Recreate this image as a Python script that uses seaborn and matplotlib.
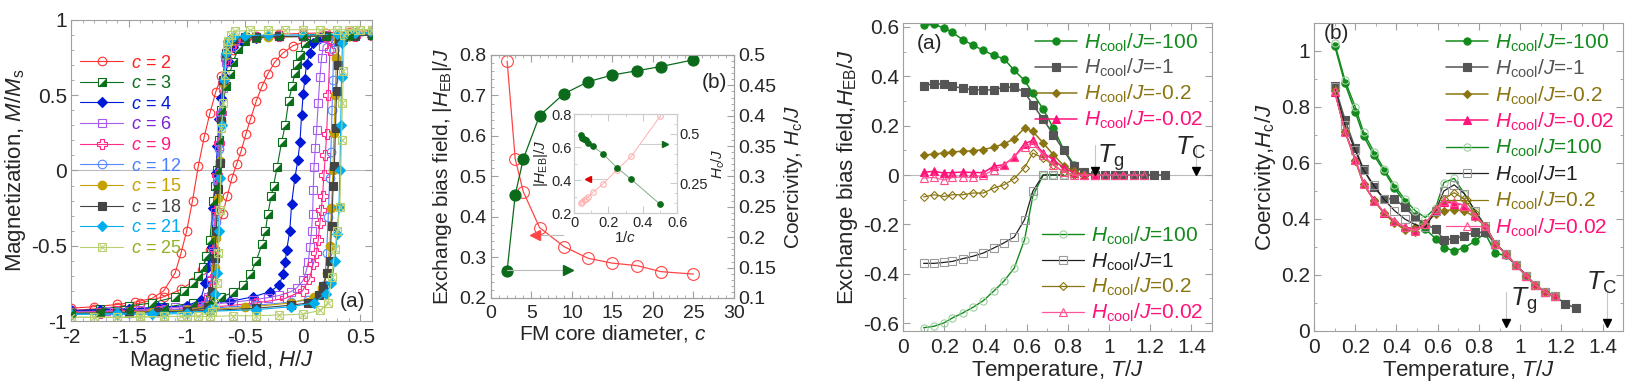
import seaborn as sns
import matplotlib.pyplot as plt
from matplotlib.lines import Line2D
from matplotlib.legend_handler import HandlerTuple
from matplotlib.ticker import MultipleLocator, FuncFormatter

sns.set_style("ticks")
plt.rcParams["font.family"] = ["Liberation Sans", "DejaVu Sans"]
plt.rcParams["mathtext.fontset"] = "custom"
plt.rcParams["mathtext.rm"] = "Liberation Sans"
plt.rcParams["mathtext.it"] = "Liberation Sans:italic"
plt.rcParams["mathtext.bf"] = "Liberation Sans:bold"
plt.rcParams["axes.unicode_minus"] = False

# ---------------- panel 1: hysteresis loops (descending / ascending branches)
H2_DN = [0.6, 0.4, 0.2, 0.0, -0.2, -0.4, -0.5, -0.6, -0.65, -0.7, -0.75, -0.8, -0.85, -0.9, -0.95, -1.0, -1.05, -1.1, -1.2, -1.3, -1.45, -1.6, -1.8, -2.0]
M2_DN = [0.93, 0.92, 0.915, 0.91, 0.905, 0.89, 0.87, 0.80, 0.72, 0.63, 0.52, 0.38, 0.22, 0.03, -0.20, -0.40, -0.55, -0.68, -0.80, -0.85, -0.875, -0.89, -0.905, -0.915]
H2_UP = [-2.0, -1.8, -1.6, -1.4, -1.2, -1.05, -0.95, -0.87, -0.80, -0.74, -0.69, -0.65, -0.61, -0.57, -0.53, -0.49, -0.45, -0.40, -0.35, -0.30, -0.24, -0.17, -0.08, 0.05, 0.2, 0.4, 0.6]
M2_UP = [-0.93, -0.92, -0.905, -0.88, -0.84, -0.79, -0.74, -0.66, -0.53, -0.41, -0.29, -0.17, -0.05, 0.04, 0.13, 0.24, 0.34, 0.46, 0.56, 0.64, 0.72, 0.78, 0.83, 0.86, 0.88, 0.90, 0.92]

H3_DN = [0.6, 0.4, 0.2, 0.0, -0.2, -0.4, -0.5, -0.555, -0.6, -0.63, -0.66, -0.70, -0.72, -0.74, -0.755, -0.77, -0.80, -0.83, -0.86, -0.90, -0.95, -1.02, -1.1, -1.3, -1.5, -1.75, -2.0]
M3_DN = [0.90, 0.90, 0.895, 0.89, 0.89, 0.88, 0.86, 0.81, 0.72, 0.64, 0.56, 0.40, 0.20, 0.0, -0.10, -0.20, -0.46, -0.57, -0.64, -0.70, -0.75, -0.80, -0.84, -0.88, -0.90, -0.92, -0.94]
H3_UP = [-2.0, -1.75, -1.5, -1.2, -0.95, -0.80, -0.70, -0.60, -0.51, -0.45, -0.40, -0.35, -0.32, -0.30, -0.27, -0.25, -0.22, -0.18, -0.15, -0.12, -0.09, -0.065, -0.05, -0.02, 0.02, 0.1, 0.2, 0.4, 0.6]
M3_UP = [-0.95, -0.94, -0.93, -0.91, -0.88, -0.86, -0.84, -0.81, -0.76, -0.69, -0.60, -0.49, -0.40, -0.29, -0.17, -0.10, 0.02, 0.19, 0.30, 0.46, 0.56, 0.65, 0.71, 0.77, 0.845, 0.88, 0.89, 0.895, 0.90]

H4_DN = [0.6, 0.4, 0.2, 0.0, -0.2, -0.4, -0.52, -0.6, -0.64, -0.67, -0.70, -0.72, -0.735, -0.75, -0.77, -0.785, -0.80, -0.814, -0.84, -0.88, -1.0, -1.2, -1.5, -1.75, -2.0]
M4_DN = [0.90, 0.90, 0.895, 0.89, 0.89, 0.88, 0.86, 0.82, 0.73, 0.62, 0.48, 0.34, 0.16, -0.02, -0.25, -0.51, -0.58, -0.64, -0.75, -0.86, -0.90, -0.91, -0.92, -0.925, -0.93]
H4_UP = [-2.0, -1.75, -1.5, -1.25, -1.0, -0.85, -0.63, -0.43, -0.28, -0.20, -0.17, -0.15, -0.137, -0.11, -0.094, -0.066, -0.04, -0.022, -0.008, 0.006, 0.021, 0.035, 0.064, 0.093, 0.15, 0.3, 0.45, 0.6]
M4_UP = [-0.94, -0.93, -0.92, -0.91, -0.90, -0.885, -0.87, -0.84, -0.805, -0.76, -0.69, -0.61, -0.53, -0.40, -0.22, -0.05, 0.07, 0.19, 0.37, 0.51, 0.61, 0.71, 0.78, 0.845, 0.88, 0.89, 0.895, 0.90]

H6_DN = [0.6, 0.4, 0.2, 0.0, -0.2, -0.4, -0.5, -0.58, -0.62, -0.66, -0.69, -0.71, -0.725, -0.74, -0.755, -0.77, -0.79, -0.82, -0.87, -1.0, -1.25, -1.5, -1.75, -2.0]
M6_DN = [0.90, 0.90, 0.895, 0.89, 0.89, 0.885, 0.88, 0.86, 0.82, 0.72, 0.55, 0.36, 0.16, -0.05, -0.30, -0.55, -0.73, -0.84, -0.90, -0.92, -0.93, -0.935, -0.94, -0.94]
H6_UP = [-2.0, -1.7, -1.4, -1.1, -0.8, -0.6, -0.43, -0.3, -0.2, -0.1, -0.05, 0.006, 0.035, 0.05, 0.064, 0.078, 0.087, 0.093, 0.099, 0.11, 0.122, 0.136, 0.15, 0.165, 0.18, 0.25, 0.4, 0.6]
M6_UP = [-0.94, -0.935, -0.925, -0.91, -0.89, -0.875, -0.86, -0.845, -0.83, -0.805, -0.78, -0.73, -0.66, -0.61, -0.51, -0.40, -0.29, -0.13, 0.02, 0.15, 0.27, 0.45, 0.62, 0.75, 0.83, 0.87, 0.89, 0.90]

H9_DN = [0.6, 0.4, 0.2, 0.0, -0.2, -0.4, -0.5, -0.58, -0.62, -0.66, -0.685, -0.705, -0.72, -0.735, -0.75, -0.765, -0.785, -0.81, -0.86, -1.0, -1.25, -1.5, -1.75, -2.0]
M9_DN = [0.90, 0.90, 0.895, 0.89, 0.89, 0.885, 0.88, 0.865, 0.83, 0.74, 0.58, 0.38, 0.18, -0.03, -0.26, -0.52, -0.72, -0.84, -0.90, -0.925, -0.935, -0.94, -0.945, -0.945]
H9_UP = [-2.0, -1.6, -1.2, -0.8, -0.4, -0.15, 0.0, 0.06, 0.093, 0.12, 0.136, 0.15, 0.162, 0.173, 0.185, 0.197, 0.208, 0.222, 0.237, 0.255, 0.3, 0.45, 0.6]
M9_UP = [-0.945, -0.935, -0.925, -0.91, -0.88, -0.85, -0.80, -0.72, -0.62, -0.55, -0.46, -0.35, -0.26, -0.17, -0.03, 0.10, 0.24, 0.50, 0.80, 0.86, 0.88, 0.895, 0.90]

H12_DN = [0.6, 0.4, 0.2, 0.0, -0.2, -0.4, -0.5, -0.6, -0.64, -0.67, -0.69, -0.705, -0.72, -0.735, -0.75, -0.765, -0.78, -0.80, -0.85, -1.0, -1.25, -1.5, -1.75, -2.0]
M12_DN = [0.90, 0.90, 0.895, 0.89, 0.89, 0.885, 0.885, 0.87, 0.84, 0.76, 0.60, 0.38, 0.14, -0.08, -0.34, -0.62, -0.77, -0.86, -0.91, -0.93, -0.94, -0.945, -0.95, -0.95]
H12_UP = [-2.0, -1.6, -1.2, -0.8, -0.4, -0.1, 0.05, 0.15, 0.19, 0.208, 0.222, 0.235, 0.245, 0.255, 0.262, 0.27, 0.29, 0.4, 0.6]
M12_UP = [-0.95, -0.94, -0.93, -0.915, -0.895, -0.875, -0.86, -0.82, -0.76, -0.55, -0.31, -0.05, 0.12, 0.40, 0.60, 0.80, 0.87, 0.89, 0.90]

H15_DN = [0.6, 0.3, 0.0, -0.3, -0.5, -0.6, -0.64, -0.665, -0.685, -0.70, -0.715, -0.73, -0.745, -0.76, -0.78, -0.82, -1.0, -1.3, -1.6, -2.0]
M15_DN = [0.90, 0.895, 0.89, 0.885, 0.88, 0.87, 0.845, 0.77, 0.58, 0.33, 0.06, -0.18, -0.45, -0.65, -0.82, -0.90, -0.93, -0.94, -0.945, -0.95]
H15_UP = [-2.0, -1.5, -1.0, -0.5, -0.1, 0.1, 0.17, 0.21, 0.235, 0.25, 0.262, 0.272, 0.282, 0.292, 0.31, 0.4, 0.6]
M15_UP = [-0.95, -0.94, -0.93, -0.91, -0.88, -0.84, -0.78, -0.68, -0.50, -0.25, 0.0, 0.25, 0.50, 0.75, 0.87, 0.89, 0.90]

H18_DN = [0.6, 0.4, 0.2, 0.0, -0.2, -0.4, -0.5, -0.6, -0.64, -0.665, -0.685, -0.70, -0.715, -0.73, -0.745, -0.76, -0.78, -0.82, -1.0, -1.25, -1.5, -1.75, -2.0]
M18_DN = [0.90, 0.90, 0.895, 0.89, 0.89, 0.885, 0.885, 0.875, 0.85, 0.78, 0.60, 0.33, 0.05, -0.12, -0.40, -0.58, -0.80, -0.91, -0.935, -0.94, -0.945, -0.95, -0.95]
H18_UP = [-2.0, -1.6, -1.2, -0.8, -0.4, -0.1, 0.05, 0.14, 0.18, 0.21, 0.237, 0.251, 0.265, 0.275, 0.285, 0.294, 0.305, 0.317, 0.35, 0.45, 0.6]
M18_UP = [-0.95, -0.945, -0.94, -0.93, -0.915, -0.895, -0.88, -0.83, -0.77, -0.68, -0.60, -0.37, -0.10, 0.03, 0.28, 0.53, 0.70, 0.86, 0.885, 0.895, 0.90]

H21_DN = [0.6, 0.3, 0.0, -0.3, -0.5, -0.6, -0.64, -0.665, -0.68, -0.695, -0.71, -0.725, -0.74, -0.755, -0.775, -0.82, -1.0, -1.3, -1.6, -2.0]
M21_DN = [0.91, 0.905, 0.90, 0.90, 0.895, 0.885, 0.86, 0.78, 0.60, 0.30, -0.05, -0.40, -0.68, -0.82, -0.90, -0.935, -0.95, -0.955, -0.955, -0.955]
H21_UP = [-2.0, -1.6, -1.2, -0.8, -0.4, -0.1, 0.1, 0.2, 0.25, 0.28, 0.30, 0.315, 0.323, 0.33, 0.337, 0.345, 0.37, 0.45, 0.6]
M21_UP = [-0.955, -0.95, -0.945, -0.935, -0.925, -0.905, -0.88, -0.82, -0.75, -0.60, -0.42, -0.24, 0.0, 0.30, 0.62, 0.85, 0.90, 0.91, 0.92]

H25_DN = [0.6, 0.45, 0.3, 0.15, 0.0, -0.15, -0.3, -0.45, -0.58, -0.62, -0.645, -0.656, -0.67, -0.685, -0.70, -0.713, -0.728, -0.742, -0.756, -0.78, -0.9, -1.05, -1.2, -1.4, -1.6, -1.8, -2.0]
M25_DN = [0.935, 0.935, 0.935, 0.935, 0.935, 0.935, 0.93, 0.93, 0.925, 0.90, 0.86, 0.81, 0.635, 0.45, 0.28, -0.26, -0.55, -0.75, -0.88, -0.94, -0.965, -0.97, -0.97, -0.975, -0.975, -0.975, -0.975]
H25_UP = [-2.0, -1.8, -1.6, -1.4, -1.2, -1.0, -0.8, -0.6, -0.4, -0.2, 0.0, 0.15, 0.22, 0.251, 0.28, 0.30, 0.323, 0.337, 0.345, 0.352, 0.36, 0.4, 0.5, 0.6]
M25_UP = [-0.975, -0.975, -0.975, -0.97, -0.97, -0.97, -0.97, -0.965, -0.965, -0.96, -0.955, -0.93, -0.88, -0.71, -0.52, -0.40, -0.24, 0.20, 0.45, 0.66, 0.90, 0.93, 0.935, 0.935]

# ---------------- panel 2: EB field and coercivity vs core diameter
C_VALS = [2, 3, 4, 6, 9, 12, 15, 18, 21, 25]
INV_C = [0.5, 0.333, 0.25, 0.167, 0.111, 0.083, 0.067, 0.056, 0.048, 0.04]
HEB_ABS = [0.785, 0.543, 0.462, 0.374, 0.327, 0.298, 0.286, 0.280, 0.265, 0.259]
HC_C = [0.145, 0.270, 0.329, 0.400, 0.436, 0.456, 0.467, 0.474, 0.481, 0.492]

# ---------------- panels 3/4: temperature dependence
T_VALS = [0.10, 0.15, 0.20, 0.24, 0.29, 0.34, 0.39, 0.44, 0.49, 0.54, 0.59, 0.63, 0.68,
          0.73, 0.78, 0.83, 0.88, 0.93, 0.98, 1.03, 1.07, 1.12, 1.17, 1.22, 1.27]
T_G = 0.93
T_CURIE = 1.42

HEB_M100 = [0.606, 0.611, 0.595, 0.578, 0.548, 0.526, 0.505, 0.485, 0.471, 0.424, 0.383, 0.332, 0.267, 0.190, 0.103, 0.042, 0.008, 0.0]
HEB_M1 = [0.362, 0.370, 0.368, 0.359, 0.352, 0.345, 0.345, 0.345, 0.356, 0.356, 0.336, 0.285, 0.227, 0.163, 0.100, 0.035, 0.011, 0, 0, 0, 0, 0, 0, 0, 0]
HEB_M02 = [0.080, 0.085, 0.089, 0.094, 0.096, 0.098, 0.103, 0.113, 0.126, 0.147, 0.190, 0.177, 0.130, 0.082, 0.038, 0.015, 0.0, 0.0]
HEB_M002 = [0.011, 0.015, 0.008, 0.010, 0.012, 0.010, 0.010, 0.035, 0.042, 0.073, 0.127, 0.140, 0.089, 0.062, 0.028, 0.010, 0.0, 0.0]
HEB_P100 = [-0.619, -0.613, -0.599, -0.579, -0.559, -0.536, -0.509, -0.471, -0.430, -0.377, -0.262, -0.086, 0.0, 0.0, 0.0]
HEB_P1 = [-0.358, -0.358, -0.354, -0.350, -0.339, -0.329, -0.316, -0.296, -0.275, -0.251, -0.181, -0.066, 0.0, 0.0, 0.0]
HEB_P02 = [-0.089, -0.080, -0.087, -0.080, -0.080, -0.073, -0.073, -0.053, -0.040, -0.015, 0.030, 0.089, 0.069, 0.040, 0.013, 0.0, 0.0]
HEB_P002 = [-0.012, -0.010, -0.020, -0.010, -0.008, -0.010, 0.0, 0.020, 0.040, 0.074, 0.115, 0.128, 0.081, 0.040, 0.013, 0, 0, 0, 0, 0, 0, 0, 0]

HC_M100 = [1.019, 0.884, 0.782, 0.697, 0.628, 0.571, 0.510, 0.460, 0.412, 0.364, 0.330, 0.298, 0.286, 0.298, 0.320, 0.350, 0.277, 0.270, 0.235, 0.198, 0.166, 0.139, 0.124]
HC_M1 = [0.875, 0.755, 0.652, 0.577, 0.514, 0.472, 0.472, 0.442, 0.406, 0.382, 0.364, 0.325, 0.330, 0.340, 0.352, 0.352, 0.312, 0.276, 0.235, 0.198, 0.166, 0.139, 0.124, 0.097, 0.082]
HC_M02 = [0.860, 0.712, 0.610, 0.526, 0.468, 0.422, 0.388, 0.365, 0.370, 0.385, 0.418, 0.430, 0.433, 0.430, 0.406, 0.376, 0.312, 0.276, 0.235, 0.198, 0.166, 0.139, 0.124]
HC_M002 = [0.855, 0.715, 0.612, 0.528, 0.468, 0.420, 0.392, 0.372, 0.362, 0.385, 0.430, 0.462, 0.455, 0.450, 0.415, 0.376, 0.312, 0.276, 0.235, 0.198, 0.166, 0.139, 0.124]
HC_P100 = [1.028, 0.895, 0.800, 0.710, 0.640, 0.578, 0.520, 0.470, 0.430, 0.405, 0.440, 0.530, 0.545, 0.490, 0.430, 0.376, 0.312, 0.276, 0.235, 0.198, 0.166, 0.139, 0.124]
HC_P1 = [0.870, 0.735, 0.645, 0.575, 0.520, 0.470, 0.430, 0.400, 0.380, 0.370, 0.430, 0.500, 0.522, 0.490, 0.430, 0.376, 0.312, 0.276, 0.235, 0.198, 0.166, 0.139, 0.124]
HC_P02 = [0.858, 0.714, 0.608, 0.524, 0.466, 0.420, 0.385, 0.362, 0.355, 0.380, 0.436, 0.472, 0.494, 0.470, 0.420, 0.376, 0.312, 0.276, 0.235, 0.198, 0.166, 0.139, 0.124]
HC_P002 = [0.857, 0.712, 0.610, 0.526, 0.466, 0.425, 0.394, 0.370, 0.358, 0.382, 0.436, 0.466, 0.460, 0.448, 0.412, 0.376, 0.312, 0.276, 0.235, 0.198, 0.166, 0.139, 0.124]

COOL_LABELS = ["-100", "-1", "-0.2", "-0.02", "100", "1", "0.2", "0.02"]

GREEN = "#138a1c"
GREY = "#555555"
OLIVE = "#8a7512"
PINK = "#ff1279"
SPINE = "#a0a0a0"
TRI = [(-1, -1), (1, -1), (1, 1), (-1, -1)]

fmt = FuncFormatter(lambda v, _: f"{v:g}")


def style_ax(ax, xmaj, xmin, ymaj, ymin, size=14, right=True):
    ax.xaxis.set_major_locator(MultipleLocator(xmaj))
    ax.xaxis.set_minor_locator(MultipleLocator(xmin))
    ax.yaxis.set_major_locator(MultipleLocator(ymaj))
    ax.yaxis.set_minor_locator(MultipleLocator(ymin))
    ax.xaxis.set_major_formatter(fmt)
    ax.yaxis.set_major_formatter(fmt)
    ax.tick_params(which="both", direction="in", top=True, right=right,
                   color=SPINE, labelsize=size, pad=3)
    ax.tick_params(axis="x", which="both", pad=5)
    ax.tick_params(which="major", length=5)
    ax.tick_params(which="minor", length=2.5)
    for s in ax.spines.values():
        s.set_color(SPINE)
        s.set_linewidth(0.8)


def line(ax, x, y, color, marker, ms, mfc, mec=None, lw=0.8, zorder=2):
    sns.lineplot(x=x, y=y, ax=ax, sort=False, estimator=None, color=color, lw=lw,
                 marker=marker, markersize=ms, markerfacecolor=mfc,
                 markeredgecolor=mec or color, markeredgewidth=0.8,
                 legend=False, zorder=zorder)


fig = plt.figure(figsize=(16.43, 3.91), dpi=100)
ax1 = fig.add_axes([0.0432, 0.179, 0.1832, 0.770])
ax2 = fig.add_axes([0.2988, 0.2379, 0.1479, 0.6215])
ax2r = ax2.twinx()
axin = fig.add_axes([0.3494, 0.4552, 0.0627, 0.2532])
axinr = axin.twinx()
ax3 = fig.add_axes([0.5496, 0.1535, 0.1881, 0.7877])
ax4 = fig.add_axes([0.7998, 0.1535, 0.1881, 0.7877])

# ---------------- panel 1
ax1.axhline(0, color="#bbbbbb", lw=0.8, zorder=0)
loops = [
    ("2", H2_DN, M2_DN, H2_UP, M2_UP, "#ff3030", "#ff2020", "o", "none"),
    ("3", H3_DN, M3_DN, H3_UP, M3_UP, "#0a6e1a", "#0a6e1a", "s", "white"),
    ("4", H4_DN, M4_DN, H4_UP, M4_UP, "#0018d8", "#0018d8", "D", "#0018d8"),
    ("6", H6_DN, M6_DN, H6_UP, M6_UP, "#a65cf0", "#7b22d6", "s", "none"),
    ("9", H9_DN, M9_DN, H9_UP, M9_UP, "#ff2a8a", "#ff1a80", "P", "none"),
    ("12", H12_DN, M12_DN, H12_UP, M12_UP, "#5588ff", "#4a7dff", "o", "none"),
    ("15", H15_DN, M15_DN, H15_UP, M15_UP, "#c4a000", "#c8a000", "o", "#c4a000"),
    ("18", H18_DN, M18_DN, H18_UP, M18_UP, "#444444", "#444444", "s", "#444444"),
    ("21", H21_DN, M21_DN, H21_UP, M21_UP, "#00aef0", "#00aef0", "D", "#00aef0"),
    ("25", H25_DN, M25_DN, H25_UP, M25_UP, "#b8d070", "#8fb020", "s", "none"),
]
handles1, labels1, tcolors1 = [], [], []
for c, hd, md, hu, mu, col, tcol, mk, mfc in loops:
    ms = 5.2 if mk == "D" else (7 if mk == "P" else 6.2)
    for hx, my in ((hd, md), (hu, mu)):
        line(ax1, hx, my, col, mk, ms, mfc)
        if c == "3":
            sns.scatterplot(x=hx, y=my, ax=ax1, marker=TRI, s=34, color=col,
                            linewidth=0, legend=False, zorder=3)
        if c == "25":
            sns.scatterplot(x=hx, y=my, ax=ax1, marker="x", s=22, color=col,
                            linewidth=0.8, legend=False, zorder=3)
    h = Line2D([], [], color=col, lw=0.8, marker=mk, ms=ms, mfc=mfc, mec=col, mew=0.8)
    if c == "3":
        h = (h, Line2D([], [], ls="none", marker=TRI, ms=6.2, mfc=col, mec=col, mew=0))
    if c == "25":
        h = (h, Line2D([], [], ls="none", marker="x", ms=4.5, mec=col, mew=0.8))
    handles1.append(h)
    labels1.append(f"$c$ = {c}")
    tcolors1.append(tcol)
leg = ax1.legend(handles1, labels1, loc="upper left", bbox_to_anchor=(0.0, 0.915),
                 frameon=False, fontsize=13, handlelength=2.4, handletextpad=0.4,
                 labelspacing=0.2, borderaxespad=0.1,
                 handler_map={tuple: HandlerTuple(ndivide=1)})
for t, tc in zip(leg.get_texts(), tcolors1):
    t.set_color(tc)
ax1.set_xlim(-2, 0.6)
ax1.set_ylim(-1.0, 1.0)
style_ax(ax1, 0.5, 0.1, 0.5, 0.1, size=15)
ax1.set_xlabel("Magnetic field, $H/J$", fontsize=16, labelpad=1)
ax1.set_ylabel("Magnetization, $M/M_{\\rm s}$", fontsize=16, labelpad=2)
ax1.text(0.935, 0.065, "(a)", transform=ax1.transAxes, fontsize=15, ha="center", va="center")

# ---------------- panel 2
RED = "#ff4545"
DGREEN = "#0b6b1a"
line(ax2, C_VALS, HEB_ABS, RED, "o", 8.5, "none", lw=0.9)
line(ax2r, C_VALS, HC_C, DGREEN, "o", 8, DGREEN, lw=0.9)
ax2.set_xlim(0, 30)
ax2.set_ylim(0.2, 0.8)
ax2r.set_ylim(0.1, 0.5)
style_ax(ax2, 5, 1, 0.1, 0.02, size=14, right=False)
style_ax(ax2r, 5, 1, 0.05, 0.01, size=14)
ax2r.tick_params(which="both", left=False)
ax2.set_xlabel("FM core diameter, $c$", fontsize=15, labelpad=1)
ax2.set_ylabel("Exchange bias field, $|H_{\\rm EB}|/J$", fontsize=15, labelpad=4)
ax2r.set_ylabel("Coercivity, $H_{\\rm c}/J$", fontsize=15, labelpad=4)
ax2.text(0.92, 0.885, "(b)", transform=ax2.transAxes, fontsize=15, ha="center", va="center")
# direction arrows (which axis each curve belongs to)
ax2.plot([8.9, 5.8], [0.355, 0.355], color="#bbbbbb", lw=0.8)
ax2.plot([5.4], [0.355], marker="<", color=RED, ms=7, ls="none")
ax2r.plot([2, 9.0], [0.146, 0.146], color="#bbbbbb", lw=0.8)
ax2r.plot([9.5], [0.146], marker=">", color=DGREEN, ms=7, ls="none")

# inset
line(axin, INV_C, HEB_ABS, "#ffb0b0", "o", 4, "none", lw=0.7)
line(axinr, INV_C, HC_C, "#6f9f74", "o", 4, DGREEN, mec=DGREEN, lw=0.6)
axin.set_xlim(0, 0.6)
axin.set_ylim(0.2, 0.8)
axinr.set_ylim(0.1, 0.6)
style_ax(axin, 0.2, 0.1, 0.2, 0.1, size=10.5, right=False)
style_ax(axinr, 0.2, 0.1, 0.25, 0.05, size=10.5)
axinr.tick_params(which="both", left=False)
for a in (axin, axinr):
    for s in a.spines.values():
        s.set_color("#cccccc")
    a.tick_params(which="both", color="#cccccc", pad=2)
axin.set_xlabel("1/$c$", fontsize=11, labelpad=0)
axin.set_ylabel("$|H_{\\rm EB}|/J$", fontsize=11, labelpad=1)
axinr.set_ylabel("$H_{\\rm c}/J$", fontsize=11, labelpad=1)
axin.plot([0.19, 0.1], [0.405, 0.405], color="#cccccc", lw=0.7)
axin.plot([0.083], [0.405], marker="<", color="#e00000", ms=5, ls="none")
axinr.plot([0.385, 0.51], [0.447, 0.447], color="#cccccc", lw=0.7)
axinr.plot([0.53], [0.447], marker=">", color=DGREEN, ms=5, ls="none")

# ---------------- panels 3/4 series styles
series_styles = [
    # line color, marker, face, edge, text color, lw
    (GREEN, "o", GREEN, GREEN, GREEN, 1.1),
    (GREY, "s", GREY, GREY, GREY, 1.1),
    (OLIVE, "D", OLIVE, OLIVE, OLIVE, 1.1),
    (PINK, "^", PINK, PINK, PINK, 1.1),
    (GREEN, "o", "none", "#9ccf9f", GREEN, 1.0),
    ("#222222", "s", "none", "#9a9a9a", "#222222", 0.9),
    (OLIVE, "D", "none", OLIVE, OLIVE, 0.9),
    ("#ff5599", "^", "none", "#ff4c8c", PINK, 0.9),
]
cool_labels = [f"$H_{{\\rm cool}}/J$={v}" for v in COOL_LABELS]


def draw_temperature(ax, data):
    hs = []
    for vals, (lc, mk, fc, ec, tc, lw) in zip(data, series_styles):
        ms = 4.3 if mk == "D" else 5.2
        line(ax, T_VALS[:len(vals)], vals, lc, mk, ms, fc, mec=ec, lw=lw)
        hs.append(Line2D([], [], color=lc, lw=lw, marker=mk, ms=ms, mfc=fc, mec=ec, mew=0.8))
    return hs


def mark_temperatures(ax, y_top, y_tip, tg_text, tc_text):
    for tt in (T_G, T_CURIE):
        ax.plot([tt, tt], [y_top, y_tip], color="#c8c8c8", lw=0.8)
        ax.plot([tt], [y_tip], marker="v", color="black", ms=5.5, ls="none")
    ax.text(tg_text[0], tg_text[1], "$T_{\\rm g}$", fontsize=19, ha="left", va="center")
    ax.text(tc_text[0], tc_text[1], "$T_{\\rm C}$", fontsize=19, ha="left", va="center")


def legend_colors(leg, colors):
    for t, tc in zip(leg.get_texts(), colors):
        t.set_color(tc)


leg_kw = dict(frameon=False, fontsize=15, handlelength=2.0, handletextpad=0.35,
              borderaxespad=0.0)

# panel 3
ax3.axhline(0, color="#bbbbbb", lw=0.8, zorder=0)
h3 = draw_temperature(ax3, [HEB_M100, HEB_M1, HEB_M02, HEB_M002,
                            HEB_P100, HEB_P1, HEB_P02, HEB_P002])
leg3a = ax3.legend(h3[:4], cool_labels[:4], loc="upper right",
                   bbox_to_anchor=(1.0, 1.0), labelspacing=0.17, **leg_kw)
legend_colors(leg3a, [s[4] for s in series_styles[:4]])
ax3.add_artist(leg3a)
leg3b = ax3.legend(h3[4:], cool_labels[4:], loc="lower right",
                   bbox_to_anchor=(1.0, -0.005), labelspacing=0.17, **leg_kw)
legend_colors(leg3b, [s[4] for s in series_styles[4:]])
mark_temperatures(ax3, 0.12, 0.018, (0.94, 0.07), (1.32, 0.11))
ax3.set_xlim(0, 1.5)
ax3.set_ylim(-0.632, 0.616)
style_ax(ax3, 0.2, 0.1, 0.2, 0.1, size=15)
ax3.set_xlabel("Temperature, $T/J$", fontsize=16, labelpad=1)
ax3.set_ylabel("Exchange bias field,$H_{\\rm EB}/J$", fontsize=16, labelpad=2)
ax3.text(0.046, 0.935, "(a)", transform=ax3.transAxes, fontsize=15, ha="left", va="center")

# panel 4
h4 = draw_temperature(ax4, [HC_M100, HC_M1, HC_M02, HC_M002,
                            HC_P100, HC_P1, HC_P02, HC_P002])
leg4 = ax4.legend(h4, cool_labels, loc="upper right", bbox_to_anchor=(1.0, 1.0),
                  labelspacing=0.2, **leg_kw)
legend_colors(leg4, [s[4] for s in series_styles])
mark_temperatures(ax4, 0.14, 0.03, (0.95, 0.11), (1.32, 0.17))
ax4.set_xlim(0, 1.5)
ax4.set_ylim(0, 1.1)
style_ax(ax4, 0.2, 0.1, 0.2, 0.1, size=15)
ax4.set_xlabel("Temperature, $T/J$", fontsize=16, labelpad=1)
ax4.set_ylabel("Coercivity,$H_{\\rm c}/J$", fontsize=16, labelpad=2)
ax4.text(0.03, 0.965, "(b)", transform=ax4.transAxes, fontsize=15, ha="left", va="center")

fig.savefig("out.png", dpi=100)
